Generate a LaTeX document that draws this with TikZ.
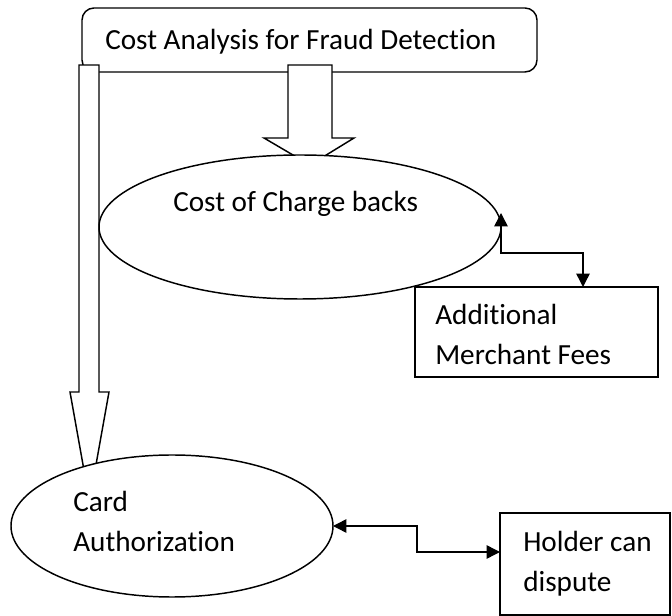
\documentclass[tikz,border=0pt]{standalone}
\usepackage{fontspec}
\setmainfont{Carlito}[Ligatures=NoCommon]
\usepackage{tikz}
\usetikzlibrary{arrows.meta,calc,positioning,shapes.geometric}

\tikzset{
  shapeline/.style={draw=black,line width=1.1pt,fill=white,inner sep=0pt,outer sep=0pt},
  blockarrow/.style={draw=black,line width=1.1pt,fill=white,line join=miter},
  ovalnode/.style={shapeline,ellipse},
  boxnode/.style={shapeline,rectangle},
  labeltext/.style={anchor=base west,inner sep=0pt,align=left,font=\fontsize{21.9}{30}\selectfont},
  dualtip/.style={arrows={Triangle[length=10pt,width=10pt]-Triangle[length=10pt,width=10pt]},line width=1.1pt}
}

\begin{document}
\begin{tikzpicture}[x=0.75pt,y=-0.75pt]
      \useasboundingbox (0,0) rectangle (672,616);
      \node[boxnode,rounded corners=9pt,minimum width=341.25pt,minimum height=48pt] (analysis) at (309.5,40) {};
      \node[labeltext] (analysistext) at (105,50) {Cost Analysis for Fraud Detection};
      \draw[blockarrow] (79,65)--(99,65)--(99,392)--(109,392)--(89.5,501)--(70,392)--(79,392)--cycle;
      \draw[blockarrow] (288,65)--(332,65)--(332,138)--(354,138)--(310,165)--(264,138)--(288,138)--cycle;
      \node[ovalnode,minimum width=301.5pt,minimum height=108pt] (chargeback) at (300,227) {};
      \node[labeltext] (chargebacktext) at (173,212) {Cost of Charge backs};
      \node[ovalnode,minimum width=241.5pt,minimum height=106.5pt] (cardauth) at (172,526) {};
      \node[labeltext] (cardauthtext) at (73,552) {Card\\Authorization};
      \node[boxnode,minimum width=182.25pt,minimum height=67.5pt] (merchant) at (536.5,332) {};
      \node[labeltext] (merchanttext) at (435,365) {Additional\\Merchant Fees};
      \node[boxnode,minimum width=127.5pt,minimum height=76.5pt] (holder) at (585,564) {};
      \node[labeltext] (holdertext) at (523,592) {Holder can\\dispute};
      \coordinate (C) at ($(chargeback.east)+(0,-14)$);
      \coordinate (M) at (583,253);
      \draw[dualtip] (C) |- (M) -- (M |- merchant.north);
      \coordinate (H) at (417,552);
      \draw[dualtip] (cardauth.east) -| (H) -- (H -| holder.west);
    \end{tikzpicture}
\end{document}
